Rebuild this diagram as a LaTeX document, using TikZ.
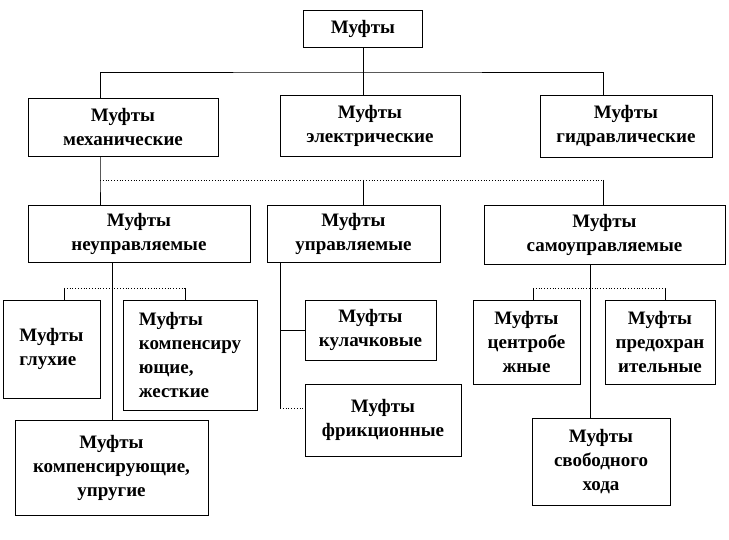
\documentclass[tikz,border=0pt]{standalone}
\usepackage{fontspec}
\setmainfont{Liberation Serif}
\usetikzlibrary{positioning}
\tikzset{
  box/.style={draw,thick,fill=white,align=center,font=\bfseries\fontsize{19}{24}\selectfont,inner sep=1pt},
  link/.style={thick},
  dlink/.style={thick,dotted}
}
\begin{document}
\begin{tikzpicture}[x=1pt,y=-1pt]
		\useasboundingbox (0,0) rectangle (729,540);
		\node [box,minimum width=119,minimum height=37] (top) at (363,28.5) {Муфты};
		\node [box,minimum width=190,minimum height=58] (mech) at (123,127) {Муфты\\механические};
		\node [box,minimum width=180,minimum height=61] (elec) at (370,125.5) {Муфты\\электрические};
		\node [box,minimum width=172,minimum height=62] (hydr) at (626,126) {Муфты\\гидравлические};
		\node [box,minimum width=222,minimum height=57] (unctl) at (139,233.5) {Муфты\\неуправляемые};
		\node [box,minimum width=173,minimum height=57] (ctl) at (353.5,233.5) {Муфты\\управляемые};
		\node [box,minimum width=241,minimum height=59] (self) at (604.5,234.5) {Муфты\\самоуправляемые};
		\node [box,minimum width=97,minimum height=98,align=left] (rigid) at (51.5,349) {Муфты\\глухие};
		\node [box,minimum width=134,minimum height=110,align=left] (comphard) at (190,355) {Муфты\\компенсиру\\ющие,\\жесткие};
		\node [box,minimum width=131,minimum height=60] (cam) at (370.5,330) {Муфты\\кулачковые};
		\node [box,minimum width=107,minimum height=84] (centr) at (526.5,342) {Муфты\\центробе\\жные};
		\node [box,minimum width=110,minimum height=84] (safe) at (660,342) {Муфты\\предохран\\ительные};
		\node [box,minimum width=193,minimum height=95] (compel) at (111.5,467.5) {Муфты\\компенсирующие,\\упругие};
		\node [box,minimum width=156,minimum height=72] (fric) at (383,420) {Муфты\\фрикционные};
		\node [box,minimum width=138,minimum height=87] (free) at (601,461.5) {Муфты\\свободного\\хода};
		% first level
		\coordinate (t1) at (363,72);
		\draw [link] (top.south) -- (t1);
		\draw [link] (mech.north -| 100,0) |- (t1) -| (hydr.north -| 603,0);
		\draw [link] (t1) -- (elec.north -| t1);
		% second level
		\coordinate (m1) at (100,180);
		\draw [link] (mech.south -| m1) -- (m1) -- (unctl.north -| m1);
		\draw [dlink] (m1) -- (603,180);
		\draw [link] (363,180) -- (ctl.north -| 363,0);
		\draw [link] (603,180) -- (self.north -| 603,0);
		% uncontrolled
		\coordinate (u1) at (112,288);
		\draw [link] (unctl.south -| u1) -- (compel.north -| u1);
		\draw [dlink] (64,288) -- (185,288);
		\draw [link] (64,288) -- (rigid.north -| 64,0);
		\draw [link] (185,288) -- (comphard.north -| 185,0);
		% controlled
		\coordinate (c1) at (280,408);
		\draw [link] (ctl.south -| c1) -- (c1);
		\draw [link] (cam.west -| c1) -- (cam.west);
		\draw [dlink] (c1) -- (fric.west |- c1);
		% self-controlled
		\coordinate (s1) at (590,288);
		\draw [link] (self.south -| s1) -- (free.north -| s1);
		\draw [dlink] (533,288) -- (665,288);
		\draw [link] (533,288) -- (centr.north -| 533,0);
		\draw [link] (665,288) -- (safe.north -| 665,0);
    \end{tikzpicture}
\end{document}
